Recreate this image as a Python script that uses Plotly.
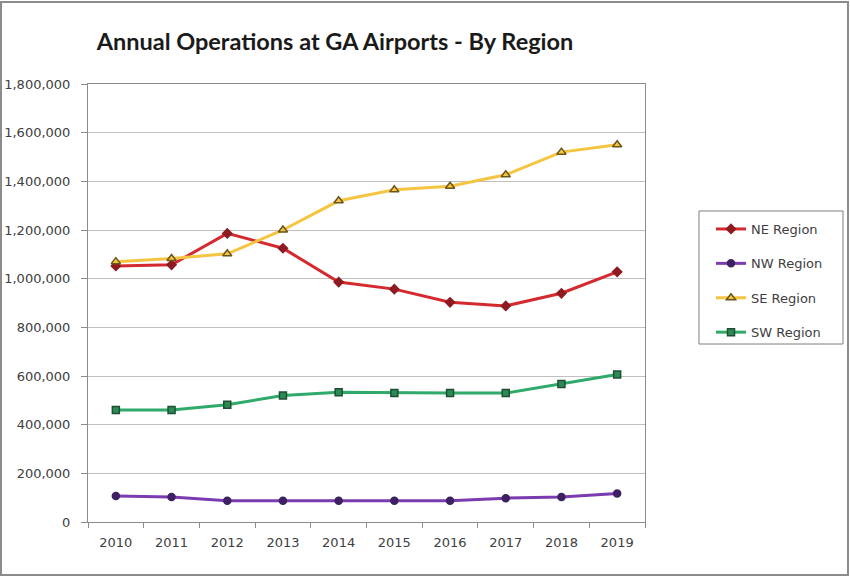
import plotly.graph_objects as go

# Annual general-aviation operations by FAA region
years = ["2010", "2011", "2012", "2013", "2014", "2015", "2016", "2017", "2018", "2019"]
ne_region = [1052000, 1057000, 1186000, 1125000, 986000, 957000, 903000, 888000, 940000, 1028000]
nw_region = [107000, 103000, 87000, 87000, 87000, 87000, 87000, 98000, 103000, 117000]
se_region = [1070000, 1083000, 1102000, 1200000, 1320000, 1365000, 1380000, 1427000, 1520000, 1550000]
sw_region = [460000, 460000, 482000, 520000, 533000, 530000, 530000, 530000, 567000, 606000]
y_ticks = [0, 200000, 400000, 600000, 800000, 1000000, 1200000, 1400000, 1600000, 1800000]

W, H = 850, 577
L, R, T, B = 88, 205, 84, 55
plot_w = W - L - R
plot_h = H - T - B


def px_x(x):
    return (x - L) / plot_w


def px_y(y):
    return 1 - (y - T) / plot_h


series = [
    ("NE Region", ne_region, "#D42A2F", "diamond", "#8E1B22", "#8E1B22", 7),
    ("NW Region", nw_region, "#7A3CB0", "circle", "#3E2163", "#3E2163", 7),
    ("SE Region", se_region, "#F5C542", "triangle-up", "#F5C542", "#6B5418", 8),
    ("SW Region", sw_region, "#2FAA6B", "square", "#2E8A55", "#1D4F33", 7),
]

fig = go.Figure()
for i, (name, vals, color, sym, mfill, mline, msize) in enumerate(series):
    fig.add_trace(go.Scatter(
        x=years, y=vals, name=name, mode="lines+markers",
        line=dict(color=color, width=3),
        marker=dict(symbol=sym, size=msize, color=mfill,
                    line=dict(color=mline, width=1.5)),
        legendgroup=f"g{i}",
    ))

tick_font = dict(family="DejaVu Sans", size=13, color="#404040")

fig.update_layout(
    width=W, height=H,
    margin=dict(l=L, r=R, t=T, b=B, autoexpand=False),
    paper_bgcolor="white", plot_bgcolor="white",
    title=dict(
        text="<b>Annual Operations at GA Airports - By Region</b>",
        font=dict(family="Lato", size=23.5, color="#1a1a1a"),
        x=335 / W, xanchor="center", xref="container",
        y=1 - 42 / H, yanchor="middle", yref="container",
    ),
    showlegend=True,
    legend=dict(
        x=px_x(711), y=px_y(214), xanchor="left", yanchor="top",
        xref="paper", yref="paper",
        borderwidth=0, bgcolor="rgba(0,0,0,0)",
        font=dict(family="DejaVu Sans", size=13, color="#404040"),
        tracegroupgap=14.5,
    ),
    xaxis=dict(
        type="category", range=[-0.5, 9.5], automargin=False,
        showline=True, linecolor="#8c8c8c", linewidth=1, mirror=True,
        ticks="outside", tickson="boundaries", ticklen=5, tickcolor="#8c8c8c",
        ticklabelstandoff=8,
        showgrid=False, tickfont=tick_font, fixedrange=True,
    ),
    yaxis=dict(
        range=[0, 1800000], tickvals=y_ticks, tickformat=",d", automargin=False,
        showline=True, linecolor="#8c8c8c", linewidth=1, mirror=True,
        ticks="outside", ticklen=6, tickcolor="#8c8c8c",
        ticklabelstandoff=8,
        showgrid=True, gridcolor="#bfbfbf", gridwidth=1,
        zeroline=False, tickfont=tick_font, fixedrange=True,
    ),
    shapes=[
        # outer chart frame
        dict(type="rect", xref="paper", yref="paper",
             x0=px_x(1), x1=px_x(848), y0=px_y(575), y1=px_y(2),
             line=dict(color="#8c8c8c", width=2), fillcolor="rgba(0,0,0,0)",
             layer="below"),
        # legend frame
        dict(type="rect", xref="paper", yref="paper",
             x0=px_x(699), x1=px_x(843), y0=px_y(344), y1=px_y(211),
             line=dict(color="#7f7f7f", width=1), fillcolor="white",
             layer="below"),
    ],
)

fig.write_html("out.html")
